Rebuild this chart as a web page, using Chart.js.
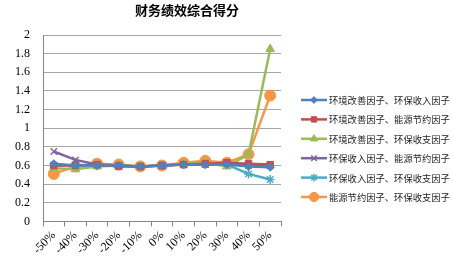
<!DOCTYPE html>
<html><head><meta charset="utf-8">
<script src="https://cdn.jsdelivr.net/npm/chart.js@4/dist/chart.umd.min.js"></script>
<style>html,body{margin:0;padding:0;background:#fff}#wrap{width:453px;height:261px}</style>
</head><body><div id="wrap"><canvas id="c" width="453" height="261"></canvas></div>
<script>
const titleText = '财务绩效综合得分';
const categories = ['-50%','-40%','-30%','-20%','-10%','0%','10%','20%','30%','40%','50%'];
const seriesNames = ['环境改善因子、环保收入因子','环境改善因子、能源节约因子','环境改善因子、环保收支因子','环保收入因子、能源节约因子','环保收入因子、环保收支因子','能源节约因子、环保收支因子'];
const s1 = [0.62,0.60,0.60,0.60,0.59,0.60,0.61,0.61,0.61,0.59,0.58];
const s2 = [0.60,0.60,0.61,0.59,0.59,0.60,0.61,0.62,0.63,0.62,0.61];
const s3 = [0.57,0.56,0.59,0.60,0.59,0.60,0.62,0.63,0.59,0.72,1.85];
const s4 = [0.75,0.66,0.61,0.60,0.59,0.60,0.61,0.61,0.62,0.60,0.60];
const s5 = [0.60,0.60,0.60,0.60,0.59,0.60,0.61,0.61,0.61,0.51,0.45];
const s6 = [0.51,0.59,0.62,0.61,0.59,0.60,0.63,0.65,0.63,0.72,1.35];
const yTicks = [0,0.2,0.4,0.6,0.8,1,1.2,1.4,1.6,1.8,2];

const colors = ['#4F81BD','#C0504D','#9BBB59','#8064A2','#4BACC6','#F79646'];
const styles = ['rectRot','rect','triangle','crossRot','star','circle'];
const radii = [4,4.5,5,4.5,4.5,5.5];
const values = [s1,s2,s3,s4,s5,s6];

const datasets = values.map((v,i)=>({
  label: seriesNames[i], data: v,
  borderColor: colors[i], backgroundColor: colors[i],
  borderWidth: 2.5, pointStyle: styles[i], pointRadius: radii[i],
  pointBorderWidth: (styles[i]==='crossRot'||styles[i]==='star')?1.5:1,
  pointBackgroundColor: colors[i], pointBorderColor: colors[i],
  tension: 0, fill: false
}));

const extras = {
  id: 'extras',
  afterDraw(chart){
    const ctx = chart.ctx;
    ctx.save();
    ctx.fillStyle = '#000';
    ctx.font = 'bold 13px "Noto Sans CJK SC"';
    ctx.textAlign = 'center'; ctx.textBaseline = 'middle';
    ctx.fillText(titleText, 187, 10);
    ctx.font = '9.3px "Noto Sans CJK SC"';
    ctx.textAlign = 'left';
    chart.data.datasets.forEach((ds,i)=>{
      const y = 100 + i*19.4;
      ctx.strokeStyle = ds.borderColor; ctx.fillStyle = ds.borderColor; ctx.lineWidth = 2.5;
      ctx.beginPath(); ctx.moveTo(301,y); ctx.lineTo(327,y); ctx.stroke();
      ctx.lineWidth = ds.pointBorderWidth;
      Chart.helpers.drawPoint(ctx, {pointStyle: ds.pointStyle, radius: ds.pointRadius*0.85, borderWidth: ds.pointBorderWidth, rotation:0}, 314, y);
      ctx.fillStyle = '#222';
      ctx.fillText(ds.label, 329, y+0.5);
    });
    ctx.restore();
  }
};

new Chart(document.getElementById('c'), {
  type: 'line',
  data: { labels: categories, datasets },
  options: {
    responsive: false, animation: false, devicePixelRatio: 1,
    layout: { padding: { top: 35, right: 172, bottom: 2, left: 2 } },
    plugins: { legend: { display: false }, title: { display: false }, tooltip: { enabled: false } },
    scales: {
      x: {
        type: 'category', offset: true,
        grid: { display: true, drawOnChartArea: false, offset: true, tickLength: 5, color: '#868686' },
        border: { display: true, color: '#868686', width: 1 },
        ticks: { minRotation: 45, maxRotation: 45, autoSkip: false, padding: 2,
          font: { family: '"Liberation Serif"', size: 12 }, color: '#000' }
      },
      y: {
        min: 0, max: 2,
        afterBuildTicks(scale){ scale.ticks = yTicks.map(v=>({value:v})); },
        grid: { color: '#A6A6A6', drawTicks: false, lineWidth: 1 },
        border: { display: true, color: '#868686' },
        ticks: { padding: 13, font: { family: '"Liberation Serif"', size: 12 }, color: '#000',
          callback: v => String(v) }
      }
    }
  },
  plugins: [extras]
});
</script></body></html>
